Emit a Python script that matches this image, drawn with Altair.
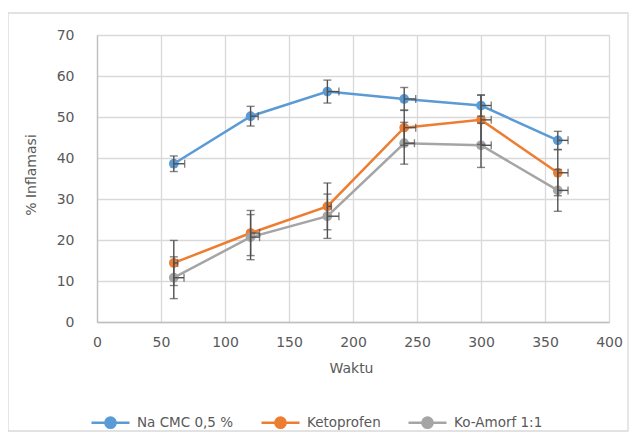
import altair as alt
import pandas as pd

series = ["Na CMC 0,5 %", "Ketoprofen", "Ko-Amorf 1:1"]
colors = ["#5B9BD5", "#ED7D31", "#A5A5A5"]
waktu = [60, 120, 180, 240, 300, 360]

na_cmc = [38.6, 50.2, 56.2, 54.4, 52.8, 44.3]
keto = [14.4, 21.7, 28.2, 47.4, 49.3, 36.4]
ko_amorf = [10.8, 20.7, 25.8, 43.6, 43.1, 32.1]

na_cmc_err = [1.9, 2.4, 2.8, 2.8, 2.6, 2.2]
keto_err = [5.5, 5.5, 5.7, 4.3, 6.0, 5.6]
ko_amorf_err = [5.1, 5.5, 5.4, 5.1, 5.4, 5.1]

na_cmc_xerr = [8.5, 6, 9, 9, 8, 8]
keto_xerr = [3, 7, 3, 9, 8, 8]
ko_amorf_xerr = [8, 7, 9, 8, 8, 8]

rows = []
for name, vals, errs, xerrs in zip(series, [na_cmc, keto, ko_amorf],
                                   [na_cmc_err, keto_err, ko_amorf_err],
                                   [na_cmc_xerr, keto_xerr, ko_amorf_xerr]):
    for t, v, e, xe in zip(waktu, vals, errs, xerrs):
        rows.append({"series": name, "waktu": t, "val": v,
                     "lo": v - e, "hi": v + e, "xhi": t + xe})
df = pd.DataFrame(rows)

FONT = "DejaVu Sans"
TXT = "#595959"
W, H = 512, 287
FS = 14

xs = alt.Scale(domain=[0, 400], nice=False)
ys = alt.Scale(domain=[0, 70], nice=False)
cscale = alt.Scale(domain=series, range=colors)

legend = alt.Legend(
    title=None, orient="none", direction="horizontal",
    legendX=-7, legendY=367,
    symbolType="M-1,0L1,0M-0.27,0A0.27,0.27,0,1,0,0.27,0A0.27,0.27,0,1,0,-0.27,0Z",
    symbolSize=1444, symbolStrokeWidth=2.5, labelOffset=6, columnPadding=22,
    labelFont=FONT, labelFontSize=13.5, labelColor=TXT,
)

xaxis = alt.Axis(values=list(range(0, 401, 50)), ticks=False, grid=True, labelFlush=False,
                 gridColor="#d9d9d9", gridWidth=1.3, domainColor="#bfbfbf", domainWidth=1.3,
                 labelFont=FONT, labelFontSize=FS, labelColor=TXT, labelPadding=13,
                 title="Waktu", titleFont=FONT, titleFontSize=FS, titleFontWeight="normal",
                 titleColor=TXT, titleX=W / 2 - 2, titleY=46, titleBaseline="middle")
yaxis = alt.Axis(values=list(range(0, 71, 10)), ticks=False, grid=True, labelFlush=False,
                 gridColor="#d9d9d9", gridWidth=1.3, domainColor="#bfbfbf", domainWidth=1.3,
                 labelFont=FONT, labelFontSize=FS, labelColor=TXT, labelPadding=23,
                 title="% Inflamasi", titleFont=FONT, titleFontSize=FS, titleFontWeight="normal",
                 titleColor=TXT, titleX=-66, titleY=H / 2 - 4, titleAngle=-90,
                 titleAlign="center", titleBaseline="middle")

base = alt.Chart(df)

border = alt.Chart(pd.DataFrame({"a": [0]})).mark_rect(
    fill=None, stroke="#d9d9d9", strokeWidth=1.3, clip=False
).encode(x=alt.value(-89), x2=alt.value(531), y=alt.value(-22), y2=alt.value(396))

lines = base.mark_line(strokeWidth=2.5).encode(
    x=alt.X("waktu:Q", scale=xs, axis=xaxis),
    y=alt.Y("val:Q", scale=ys, axis=yaxis),
    stroke=alt.Stroke("series:N", scale=cscale, legend=legend, sort=series),
    order=alt.Order("waktu:Q"),
)

vbar = base.mark_rule(color="#505050", strokeWidth=1.4).encode(
    x="waktu:Q", y="lo:Q", y2="hi:Q")
vcap_lo = base.mark_tick(color="#505050", orient="horizontal", size=8, thickness=1.4).encode(
    x="waktu:Q", y="lo:Q")
vcap_hi = base.mark_tick(color="#505050", orient="horizontal", size=8, thickness=1.4).encode(
    x="waktu:Q", y="hi:Q")
hbar = base.mark_rule(color="#505050", strokeWidth=1.4).encode(
    x="waktu:Q", x2="xhi:Q", y="val:Q")
hcap = base.mark_tick(color="#505050", orient="vertical", size=8, thickness=1.4).encode(
    x="xhi:Q", y="val:Q")

points = base.mark_circle(size=95, opacity=1).encode(
    x="waktu:Q", y="val:Q",
    fill=alt.Fill("series:N", scale=cscale, legend=legend, sort=series),
)

chart = alt.layer(border, lines, points, vbar, vcap_lo, vcap_hi, hbar, hcap).properties(
    width=W, height=H,
    autosize=alt.AutoSizeParams(type="none"),
    padding={"left": 89, "top": 27, "right": 21, "bottom": 110},
).configure_view(stroke=None).configure(background="white")

chart.save("out.html", embed_options={"renderer": "svg", "actions": False})
